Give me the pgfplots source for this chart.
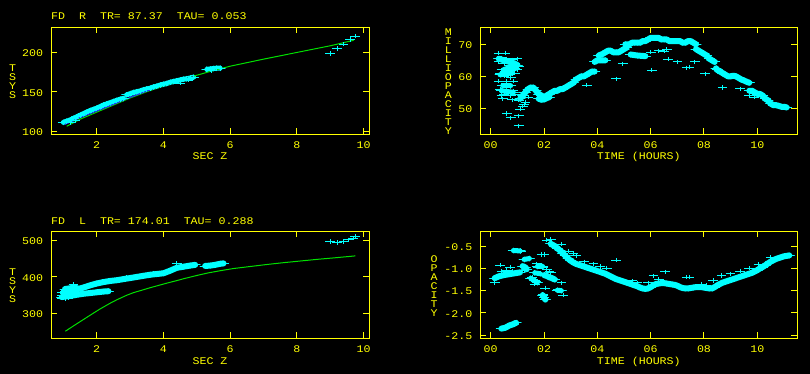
\documentclass[border=0pt]{standalone}
\usepackage{fontspec}
\setmainfont[FakeStretch=1.14]{Liberation Mono}
\usepackage{pgfplots}
\pgfplotsset{compat=1.18}
\definecolor{yel}{RGB}{255,255,0}
\definecolor{cy}{RGB}{0,255,255}
\definecolor{grn}{RGB}{0,224,0}
\definecolor{blu}{RGB}{40,40,255}
\pgfplotsset{
 panel/.style={scale only axis, height=107bp,
   axis line style={yel, line width=1bp},
   every tick/.style={yel, line width=1bp},
   tick align=inside, major tick length=6bp,
   xticklabel style={anchor=base, yshift=-14bp, inner sep=0pt, text=yel},
   yticklabel style={anchor=east, xshift=-7.7bp, yshift=-1bp, inner sep=0pt, text=yel},
   every axis x label/.style={at={(0.5,0)}, anchor=base, yshift=-25.7bp, inner sep=0pt, text=yel},
   every axis y label/.style={at={(0,0.5)}, anchor=center, align=center, inner sep=0pt, text=yel},
   every axis title/.style={at={(0,1)}, anchor=base west, yshift=7.3bp, inner sep=0pt, text=yel},
 },
 cross/.style={only marks, cy, mark=+, mark size=2.1bp, mark options={xscale=2.3, line width=0.9bp}},
 band/.style={cy, line width=6bp, line join=round, line cap=round, mark=+, mark size=2.4bp, mark options={xscale=2.1, line width=0.9bp}},
 tband/.style={band, line width=5bp},
}
\begin{document}
\fontsize{10.2bp}{9bp}\selectfont
\begin{tikzpicture}
\useasboundingbox (0,0) rectangle (810bp,-374bp);
\fill[black] (0,0) rectangle (810bp,-374bp);

% ---------------- top left
\begin{axis}[panel, width=318bp, at={(51bp,-27bp)}, anchor=north west,
  xmin=0.63, xmax=10.16, ymin=96.2, ymax=232.4,
  xtick={2,4,6,8,10}, xticklabels={2,4,6,8,10},
  ytick={100,150,200}, yticklabels={100,150,200},
  title={FD~~R~~TR=~87.37~~TAU=~0.053},
  xlabel={SEC~Z}, ylabel={T\\S\\Y\\S},
  ylabel style={xshift=-38.3bp, yshift=-1.2bp}]
\addplot[tband] coordinates {(1.0,111)(1.1,112.5)(1.2,114)(1.3,116)(1.4,118)(1.5,120)(1.6,122)(1.7,124)(1.8,126)(1.9,127.5)(2.0,129)(2.1,131)(2.2,133)(2.3,134.5)(2.4,136)(2.5,137.5)(2.6,139)(2.7,140.5)(2.8,141.5)};
\addplot[tband] coordinates {(2.9,146)(3.0,147.5)(3.1,149)(3.2,150)(3.3,151)(3.4,152.5)(3.5,153.5)(3.6,154.5)(3.7,156)(3.8,157)(3.9,158.5)(4.0,159.5)(4.1,160.5)(4.2,162)(4.3,163)(4.4,164)(4.5,165)(4.6,166)(4.7,166.5)(4.8,167.5)(4.9,168.5)};
\addplot[tband] coordinates {(5.3,178.5)(5.4,179)(5.5,179.5)(5.6,180)(5.7,180)};
\addplot[cross] coordinates {(9.0,198.7)(9.2,205)(9.4,210.6)(9.6,216.6)(9.75,220.5)(4.5,161)(4.35,162.5)(4.75,165)(1.2,110.5)(1.35,113)(5.45,177)};
\addplot[grn, line width=1bp] coordinates {(1.1,106)(1.5,115)(2,124)(2.5,133)(3,142)(3.5,150)(4,157.5)(4.5,164.5)(5,171)(5.5,177)(6,182.5)(7,191.5)(8,200)(9,208.5)(9.7,215.5)};
\addplot[blu, line width=1bp] coordinates {(1.05,108.5)(1.5,117)(2,125.5)(2.5,134)(3,142.8)(3.5,150.8)(4,158.3)(4.5,165)(4.9,169.2)};
\end{axis}

% ---------------- top right
\begin{axis}[panel, width=317bp, at={(480.3bp,-27bp)}, anchor=north west,
  xmin=-0.39, xmax=11.5, ymin=42, ymax=75.4,
  xtick={0,2,4,6,8,10}, xticklabels={00,02,04,06,08,10},
  ytick={50,60,70}, yticklabels={50,60,70},
  xlabel={TIME~(HOURS)}, ylabel={M\\I\\L\\L\\I\\O\\P\\A\\C\\I\\T\\Y},
  ylabel style={xshift=-32bp, yshift=-1.2bp}]
\addplot[band] coordinates {(1.1,53)(1.2,54)(1.3,55)(1.4,56)(1.5,56.5)(1.6,56.5)(1.7,55.5)(1.8,54.5)(1.9,54)(2.0,53.5)(2.1,54)(2.2,54.5)(2.3,55)(2.4,55.5)(2.5,55.5)(2.6,56)(2.7,56)(2.8,56.5)(2.9,57)(3.0,57.5)(3.1,58)(3.2,59)(3.3,59.5)(3.4,60)(3.5,60)(3.6,60.5)(3.7,61)(3.8,61.5)(3.9,61.5)};
\addplot[band] coordinates {(1.8,53)(1.9,52.7)(2.0,52.8)(2.1,53.2)(2.2,53.5)};
\addplot[band] coordinates {(3.9,64.5)(4.0,65)(4.1,65)(4.2,65)(4.3,65)};
\addplot[band] coordinates {(4.05,66.5)(4.2,67)(4.3,67.5)(4.4,68)(4.5,68)(4.6,67.5)(4.7,67.5)(4.8,67.5)(4.9,68)(5.0,68.5)(5.1,69)};
\addplot[band] coordinates {(5.05,70)(5.2,70)(5.3,70.5)(5.4,70.5)(5.5,70.5)(5.6,70.5)(5.7,71)(5.8,71)(5.9,71.5)(6.0,72)(6.1,72)(6.2,72)(6.3,72)(6.4,71.5)(6.5,71.5)(6.6,71.5)(6.7,71)(6.8,71)(6.9,71)(7.0,71)(7.1,71)(7.2,70.5)(7.3,70.5)(7.4,71)(7.5,71)(7.6,70.5)(7.7,70)};
\addplot[band] coordinates {(7.7,68.5)(7.8,68)(7.9,67.5)(8.0,67)(8.1,66.5)(8.2,65.5)(8.3,65)(8.4,64.5)};
\addplot[band] coordinates {(8.45,62.5)(8.5,62)(8.6,61.5)(8.7,61)(8.8,60.5)(8.9,60)(9.0,60)(9.1,60.2)(9.2,60)(9.3,59.5)(9.4,59)(9.5,58.7)(9.6,58.3)(9.7,58)};
\addplot[band] coordinates {(9.7,55.5)(9.8,55.5)(9.9,55)(10.0,54.5)(10.1,54.5)(10.2,54)(10.3,53)(10.4,52.5)(10.5,51.5)(10.6,51)(10.7,51)(10.8,50.8)(10.9,50.5)(11.0,50.5)(11.1,50.3)};
\addplot[band] coordinates {(5.25,66.8)(5.5,66.5)(5.8,66.3)};
\addplot[band] coordinates {(0.3,65.5)(0.5,65)(0.7,64.5)(0.9,64)(1.0,63.5)};
\addplot[band] coordinates {(0.5,62)(0.7,62.5)(0.9,62.5)};
\addplot[tband] coordinates {(0.35,60.5)(0.6,60.8)(0.8,61)};
\addplot[tband] coordinates {(0.45,57)(0.6,57)(0.75,57)};
\addplot[tband] coordinates {(0.4,55.5)(0.6,55.3)(0.85,55)};
\addplot[cross] coordinates {(0.3,67.3)(0.55,67.3)(0.4,65.8)(0.6,65.5)(0.8,65.2)(1.0,65.5)(0.3,64.5)(0.5,64)(0.7,63.5)(0.9,64)(1.05,63)(0.4,62)(0.6,62.5)(0.8,62)(1.0,62)(0.35,61)(0.7,61)(0.9,61)(0.5,60)(0.75,59.5)(0.3,58.5)(0.6,58.5)(0.85,58.5)(0.4,57.2)(0.7,57)(0.35,56)(0.6,55.5)(0.85,55.5)(0.5,54.5)(0.9,54.5)(0.4,54)(0.75,54)(0.45,53)(0.8,52.7)(1.05,52.5)(0.6,48.4)(0.75,47.1)(1.05,47.7)(1.05,44.6)(1.1,49.7)(1.2,50.7)(1.25,51.3)(1.3,52)(1.4,53.5)(1.25,55)(3.6,57.2)(4.7,59.2)(4.95,63.9)(5.2,66.8)(5.5,66.5)(5.8,66.3)(6.0,67.5)(6.3,68)(6.5,67.8)(6.6,68.5)(6.04,61.9)(6.66,65.3)(7.0,64.5)(7.35,62.7)(7.45,62.8)(7.66,64.5)(8.04,60.8)(8.7,56.5)(9.35,56.1)(9.7,54)(9.9,53.5)};
\end{axis}

% ---------------- bottom left
\begin{axis}[panel, width=318bp, at={(51bp,-231.3bp)}, anchor=north west,
  xmin=0.63, xmax=10.16, ymin=232.3, ymax=524.7,
  xtick={2,4,6,8,10}, xticklabels={2,4,6,8,10},
  ytick={300,400,500}, yticklabels={300,400,500},
  title={FD~~L~~TR=~174.01~~TAU=~0.288},
  xlabel={SEC~Z}, ylabel={T\\S\\Y\\S},
  ylabel style={xshift=-38.3bp, yshift=-1.2bp}]
\addplot[band] coordinates {(1.0,358)(1.2,362)(1.4,366)(1.6,371)(1.8,377)(2.0,382)(2.2,386)(2.4,389)(2.6,391)(2.8,394)(3.0,397)(3.2,400)(3.4,403)(3.6,406)(3.8,408)(4.0,410)(4.2,417)(4.4,425)(4.6,428)(4.8,431)(4.95,433)};
\addplot[band] coordinates {(0.95,345)(1.2,348)(1.45,352)(1.6,354)(1.8,356)(2.0,358)(2.2,360)(2.35,361)};
\addplot[band] coordinates {(1.05,367)(1.2,369)(1.4,370)};
\addplot[band] coordinates {(5.25,430)(5.4,431)(5.55,433)(5.7,436)(5.8,437)};
\addplot[cross] coordinates {(0.95,342)(0.95,350)(0.95,358)(1.05,340)(1.05,347)(1.05,354)(1.05,361)(1.15,342)(1.15,349)(1.15,356)(1.15,363)(1.15,370)(1.25,345)(1.25,352)(1.25,359)(1.25,366)(1.25,373)(1.35,348)(1.35,355)(1.35,362)(1.45,350)(1.45,357)(1.45,364)(1.3,380)(9.0,497)(9.2,494)(9.4,497)(9.55,502)(9.7,506)(9.75,511)(4.5,432)(4.4,437)(3.7,411)(2.9,399)};
\addplot[grn, line width=1bp] coordinates {(1.06,251.6)(1.3,266)(1.6,283.5)(1.9,301)(2.1,312.5)(2.4,328)(2.6,337.5)(2.9,350)(3.1,357)(3.4,365)(3.6,370.5)(3.9,378)(4.1,383)(4.4,390)(4.6,395)(5.0,404)(5.34,411)(5.7,417)(6.1,423)(6.6,428.5)(7.1,434)(7.6,439)(8.1,443.5)(8.6,448)(9.1,452)(9.75,457.5)};
\end{axis}

% ---------------- bottom right
\begin{axis}[panel, width=317bp, at={(480.3bp,-231.3bp)}, anchor=north west,
  xmin=-0.39, xmax=11.5, ymin=-2.567, ymax=-0.17,
  xtick={0,2,4,6,8,10}, xticklabels={00,02,04,06,08,10},
  ytick={-2.5,-2,-1.5,-1,-0.5}, yticklabels={-2.5,-2.0,-1.5,-1.0,-0.5},
  xlabel={TIME~(HOURS)}, ylabel={O\\P\\A\\C\\I\\T\\Y},
  ylabel style={xshift=-46.1bp, yshift=-1.2bp}]
\addplot[band] coordinates {(2.25,-0.45)(2.4,-0.5)(2.5,-0.55)(2.6,-0.6)(2.7,-0.66)(2.8,-0.72)(2.9,-0.78)(3.0,-0.83)(3.1,-0.87)(3.2,-0.9)(3.3,-0.92)(3.4,-0.94)(3.5,-0.96)(3.6,-0.98)(3.7,-1.0)(3.8,-1.02)(3.9,-1.04)(4.0,-1.06)(4.1,-1.08)(4.2,-1.1)(4.3,-1.12)(4.4,-1.15)(4.5,-1.18)(4.6,-1.21)(4.7,-1.24)(4.8,-1.26)(4.9,-1.28)(5.0,-1.3)(5.1,-1.32)(5.2,-1.34)(5.3,-1.36)(5.4,-1.38)(5.5,-1.4)(5.6,-1.43)(5.7,-1.45)(5.8,-1.46)(5.9,-1.45)(6.0,-1.42)(6.1,-1.38)(6.2,-1.35)(6.3,-1.34)(6.4,-1.33)(6.5,-1.33)(6.6,-1.34)(6.7,-1.35)(6.8,-1.36)(6.9,-1.37)(7.0,-1.39)(7.1,-1.42)(7.2,-1.44)(7.3,-1.45)(7.4,-1.45)(7.5,-1.44)(7.6,-1.43)(7.7,-1.42)(7.8,-1.42)(7.9,-1.42)(8.0,-1.43)(8.1,-1.44)(8.2,-1.45)(8.3,-1.45)(8.4,-1.42)(8.5,-1.38)(8.6,-1.35)(8.7,-1.32)(8.8,-1.3)(8.9,-1.28)(9.0,-1.26)(9.1,-1.24)(9.2,-1.22)(9.3,-1.2)(9.4,-1.18)(9.5,-1.16)(9.6,-1.14)(9.7,-1.12)(9.8,-1.1)(9.9,-1.07)(10.0,-1.04)(10.1,-1.0)(10.2,-0.97)(10.3,-0.93)(10.4,-0.89)(10.5,-0.85)(10.6,-0.82)(10.7,-0.79)(10.8,-0.77)(10.9,-0.75)(11.0,-0.73)(11.1,-0.72)(11.2,-0.71)};
\addplot[band] coordinates {(0.15,-1.22)(0.3,-1.18)(0.5,-1.15)(0.7,-1.13)(0.9,-1.11)(1.1,-1.09)};
\addplot[band] coordinates {(0.4,-2.35)(0.55,-2.33)(0.7,-2.28)(0.85,-2.25)(0.95,-2.22)};
\addplot[band] coordinates {(1.2,-0.95)(1.3,-0.98)(1.35,-1.02)};
\addplot[band] coordinates {(2.0,-1.15)(2.1,-1.17)(2.2,-1.2)(2.3,-1.22)(2.4,-1.25)};
\addplot[band] coordinates {(1.95,-1.6)(2.05,-1.7)};
\addplot[tband] coordinates {(1.5,-1.22)(1.65,-1.28)(1.75,-1.32)};
\addplot[tband] coordinates {(1.65,-1.1)(1.85,-1.12)};
\addplot[tband] coordinates {(1.75,-0.96)(1.95,-0.96)};
\addplot[tband] coordinates {(1.25,-0.8)(1.45,-0.78)};
\addplot[tband] coordinates {(0.85,-0.6)(1.1,-0.61)};
\addplot[tband] coordinates {(2.5,-1.49)(2.65,-1.5)};
\addplot[cross] coordinates {(0.4,-1.07)(0.6,-1.05)(0.8,-1.06)(0.15,-1.32)(0.36,-0.93)(0.73,-0.97)(0.85,-0.6)(1.0,-0.6)(1.15,-0.62)(1.25,-1.04)(1.3,-0.79)(1.45,-0.78)(1.55,-1.2)(1.6,-1.25)(1.7,-1.3)(1.65,-1.35)(1.7,-1.1)(1.8,-1.12)(1.75,-0.97)(1.85,-0.95)(1.95,-0.97)(1.73,-0.9)(2.0,-0.69)(1.9,-0.69)(2.1,-1.03)(2.2,-1.06)(2.25,-1.1)(1.95,-1.58)(2.0,-1.65)(2.05,-1.7)(2.04,-1.44)(2.5,-1.48)(2.6,-1.5)(2.66,-1.32)(2.72,-1.6)(2.1,-0.37)(2.25,-0.35)(2.65,-0.46)(2.9,-0.62)(3.1,-0.66)(3.2,-0.72)(3.5,-0.85)(3.85,-0.9)(4.1,-0.96)(4.35,-1.0)(4.7,-0.82)(6.54,-1.08)(7.35,-1.2)(7.45,-1.2)(8.35,-1.27)(8.66,-1.16)(9.0,-1.12)(9.35,-1.06)(9.7,-1.0)(10.04,-0.91)(10.5,-0.75)(11.0,-0.72)(6.1,-1.17)(5.9,-1.32)(6.3,-1.25)(5.3,-1.28)(5.5,-1.32)(7.9,-1.35)(8.1,-1.38)};
\end{axis}
\end{tikzpicture}
\end{document}
